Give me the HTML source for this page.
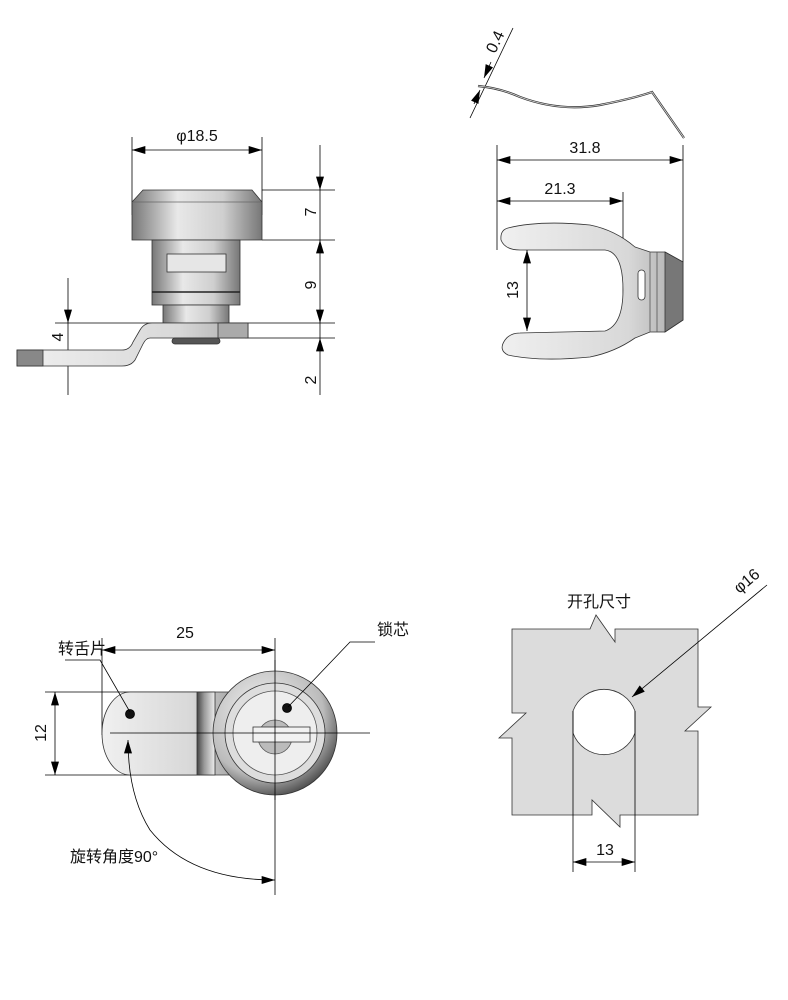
<!DOCTYPE html>
<html><head><meta charset="utf-8"><style>
html,body{margin:0;padding:0;background:#fff;}
svg{display:block;}
text{font-family:"Liberation Sans","Noto Sans CJK SC",sans-serif;fill:#111;}
</style></head><body>
<svg width="788" height="1000" viewBox="0 0 788 1000" xmlns="http://www.w3.org/2000/svg">
<defs>
<linearGradient id="g1" x1="0" x2="1" y1="0" y2="0">
<stop offset="0" stop-color="#777"/><stop offset="0.35" stop-color="#e8e8e8"/><stop offset="0.7" stop-color="#cfcfcf"/><stop offset="1" stop-color="#777"/></linearGradient>
<linearGradient id="g2" x1="0" x2="1" y1="0" y2="0">
<stop offset="0" stop-color="#f0f0f0"/><stop offset="0.7" stop-color="#d8d8d8"/><stop offset="1" stop-color="#aaa"/></linearGradient>
<linearGradient id="g3" x1="0" x2="1" y1="0" y2="0">
<stop offset="0" stop-color="#444"/><stop offset="0.4" stop-color="#999"/><stop offset="1" stop-color="#eee"/></linearGradient>
<radialGradient id="rg" cx="0.4" cy="0.35" r="0.7"><stop offset="0" stop-color="#f5f5f5"/><stop offset="0.7" stop-color="#bbb"/><stop offset="1" stop-color="#444"/></radialGradient>
<marker id="a" viewBox="0 0 10 6" refX="10" refY="3" markerWidth="14" markerHeight="8" markerUnits="userSpaceOnUse" orient="auto-start-reverse"><path d="M0,0 L10,3 L0,6Z" fill="#000"/></marker>
</defs>
<g stroke="#000" stroke-width="0.8" fill="none">
<!-- TOP LEFT -->
<line x1="132" y1="137" x2="132" y2="215"/><line x1="262" y1="137" x2="262" y2="215"/>
<line x1="132" y1="150" x2="262" y2="150" marker-start="url(#a)" marker-end="url(#a)"/>
<line x1="262" y1="190" x2="335" y2="190"/><line x1="262" y1="240" x2="335" y2="240"/>
<line x1="55" y1="323" x2="335" y2="323"/><line x1="245" y1="338" x2="335" y2="338"/>
<line x1="320" y1="145" x2="320" y2="190" marker-end="url(#a)"/>
<line x1="320" y1="240" x2="320" y2="323" marker-start="url(#a)" marker-end="url(#a)"/>
<line x1="320" y1="190" x2="320" y2="240"/>
<line x1="320" y1="323" x2="320" y2="338"/>
<line x1="320" y1="395" x2="320" y2="338" marker-end="url(#a)"/>
<line x1="68" y1="278" x2="68" y2="323" marker-end="url(#a)"/>
<line x1="68" y1="323" x2="68" y2="350"/>
<line x1="68" y1="395" x2="68" y2="350" marker-end="url(#a)"/>
<path d="M143,190 L252,190 L262,202 L262,240 L132,240 L132,202Z" fill="url(#g1)" stroke="#333"/>
<line x1="133" y1="202" x2="261" y2="202" stroke="#666"/>
<rect x="152" y="240" width="88" height="65" fill="url(#g1)" stroke="#333"/>
<line x1="152" y1="292" x2="240" y2="292" stroke="#222" stroke-width="1.5"/>
<rect x="167" y="254" width="59" height="18" fill="#e6e6e6" stroke="#333"/>
<rect x="163" y="305" width="66" height="18" fill="url(#g1)" stroke="#333"/>
<path d="M17,350 L122,350 Q130,350 133,342 L140,330 Q144,323 152,323 L248,323 L248,338 L150,338 Q146,338 143,344 L135,360 Q131,366 122,366 L17,366Z" fill="url(#g2)" stroke="#333"/>
<rect x="17" y="350" width="26" height="16" fill="#888" stroke="#333"/>
<rect x="218" y="323" width="30" height="15" fill="#aaa" stroke="#333"/>
<rect x="172" y="338" width="48" height="6" rx="3" fill="#555" stroke="#333"/>
<!-- TOP RIGHT -->
<line x1="470" y1="118" x2="513" y2="28"/>
<line x1="491" y1="62" x2="484" y2="78" marker-end="url(#a)"/>
<line x1="474" y1="104" x2="480" y2="90" marker-end="url(#a)"/>
<path d="M478,86 Q500,88 520,97 Q560,112 600,105 Q635,98 652,92 L684,138" stroke="#333" stroke-width="2.2"/>
<path d="M478,86 Q500,88 520,97 Q560,112 600,105 Q635,98 652,92 L684,138" stroke="#ddd" stroke-width="0.8"/>
<line x1="497" y1="145" x2="497" y2="250"/><line x1="683" y1="145" x2="683" y2="262"/>
<line x1="623" y1="192" x2="623" y2="330"/>
<line x1="497" y1="160" x2="683" y2="160" marker-start="url(#a)" marker-end="url(#a)"/>
<line x1="497" y1="201" x2="623" y2="201" marker-start="url(#a)" marker-end="url(#a)"/>
<path d="M508,228 Q540,220 590,225 Q615,230 635,247 L650,252 L665,252 L683,262 L683,320 L665,332 L650,332 L635,338 Q615,352 590,357 Q540,362 508,355 Q498,350 505,340 Q510,333 520,333 L605,331 Q623,325 623,290 Q623,252 605,250 L520,250 Q505,250 501,240 Q500,230 508,228Z" fill="url(#g2)" stroke="#333"/>
<path d="M665,252 L683,262 L683,320 L665,332Z" fill="#777" stroke="#333"/>
<line x1="650" y1="252" x2="650" y2="332" stroke="#555"/><line x1="657" y1="252" x2="657" y2="332" stroke="#555"/>
<rect x="638" y="270" width="7" height="30" rx="3.5" fill="#fff" stroke="#333"/>
<line x1="527" y1="250" x2="527" y2="331" marker-start="url(#a)" marker-end="url(#a)"/>
<!-- BOTTOM LEFT -->
<line x1="102" y1="638" x2="102" y2="735"/><line x1="275" y1="638" x2="275" y2="895"/>
<line x1="102" y1="650" x2="275" y2="650" marker-start="url(#a)" marker-end="url(#a)"/>
<line x1="45" y1="692" x2="200" y2="692"/><line x1="45" y1="775" x2="200" y2="775"/>
<line x1="55" y1="692" x2="55" y2="775" marker-start="url(#a)" marker-end="url(#a)"/>
<path d="M130,692 L230,692 L230,775 L130,775 A28,41.5 0 0 1 130,692Z" fill="url(#g2)" stroke="#333"/>
<rect x="197" y="692" width="18" height="83" fill="url(#g3)" stroke="#333"/>
<circle cx="130" cy="714" r="4.5" fill="#111"/>
<circle cx="275" cy="733" r="62" fill="url(#rg)" stroke="#333"/>
<circle cx="275" cy="733" r="50" fill="#ddd" stroke="#333"/>
<circle cx="275" cy="733" r="42" fill="#eee" stroke="#555"/>
<circle cx="275" cy="737" r="17" fill="#bbb" stroke="#555"/>
<rect x="253" y="727" width="57" height="15" fill="#f2f2f2" stroke="#333"/>
<circle cx="287" cy="708" r="4.5" fill="#111"/>
<line x1="110" y1="733" x2="370" y2="733"/><line x1="275" y1="660" x2="275" y2="800"/>
<path d="M65,660 L100,660 L130,712"/>
<path d="M375,642 L350,642 L288,707"/>
<path d="M275,880 Q190,880 150,830 Q128,795 128,740" marker-start="url(#a)" marker-end="url(#a)"/>
<!-- BOTTOM RIGHT -->
<path d="M512,629 L590,629 L596,615 L615,642 L615,629 L698,629 L698,707 L711,707 L685,731 L698,731 L698,815 L620,815 L620,827 L592,800 L592,815 L512,815 L512,738 L499,738 L526,713 L512,713Z" fill="#dcdcdc" stroke="#333"/>
<path d="M573,711 A33,33 0 0 1 635,711 L635,733 A33,33 0 0 1 573,733Z" fill="#fff" stroke="#333"/>
<line x1="573" y1="711" x2="573" y2="872"/><line x1="635" y1="711" x2="635" y2="872"/>
<line x1="573" y1="862" x2="635" y2="862" marker-start="url(#a)" marker-end="url(#a)"/>
<line x1="767" y1="585" x2="632" y2="697" marker-end="url(#a)"/>
</g>
<g font-size="16">
<text x="197" y="141" text-anchor="middle">φ18.5</text>
<text transform="translate(316,212) rotate(-90)" text-anchor="middle">7</text>
<text transform="translate(316,285) rotate(-90)" text-anchor="middle">9</text>
<text transform="translate(316,380) rotate(-90)" text-anchor="middle">2</text>
<text transform="translate(63,337) rotate(-90)" text-anchor="middle">4</text>
<text transform="translate(500,44) rotate(-65)" text-anchor="middle">0.4</text>
<text x="585" y="153" text-anchor="middle">31.8</text>
<text x="560" y="194" text-anchor="middle">21.3</text>
<text transform="translate(518,290) rotate(-90)" text-anchor="middle">13</text>
<text x="185" y="638" text-anchor="middle">25</text>
<text transform="translate(46,733) rotate(-90)" text-anchor="middle">12</text>
<text x="58" y="654">转舌片</text>
<text x="377" y="635">锁芯</text>
<text x="70" y="862">旋转角度90°</text>
<text x="567" y="607">开孔尺寸</text>
<text transform="translate(750,585) rotate(-40)" text-anchor="middle">φ16</text>
<text x="605" y="855" text-anchor="middle">13</text>
</g>
</svg>
</body></html>
